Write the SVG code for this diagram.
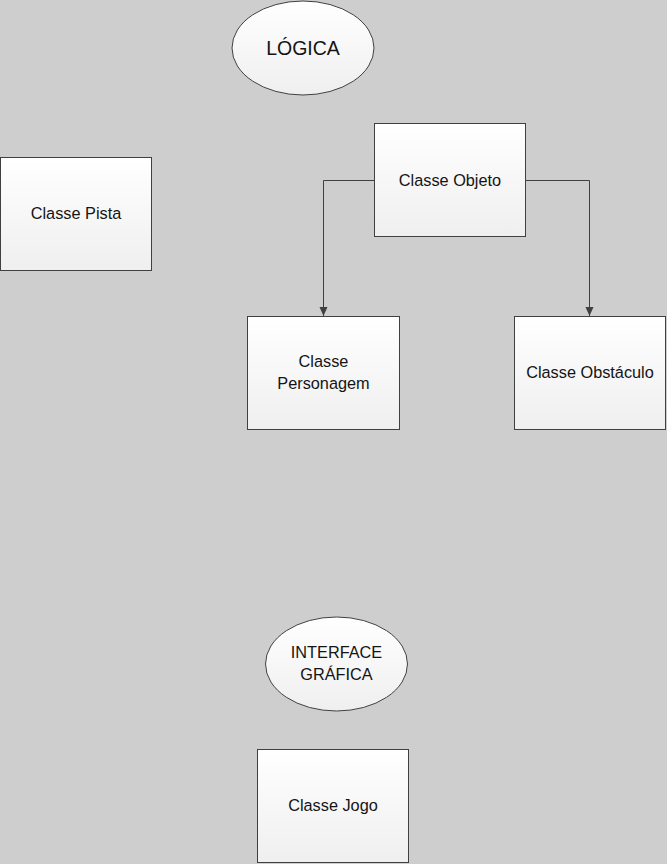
<svg xmlns="http://www.w3.org/2000/svg" width="667" height="864" viewBox="0 0 667 864">
  <defs>
    <linearGradient id="g" x1="0" y1="0" x2="0" y2="1">
      <stop offset="0" stop-color="#ffffff"/>
      <stop offset="1" stop-color="#efefef"/>
    </linearGradient>
    <marker id="arr" markerWidth="10" markerHeight="10" refX="9" refY="5" orient="auto" markerUnits="userSpaceOnUse">
      <path d="M0,1 L9,5 L0,9 Z" fill="#404040"/>
    </marker>
    <style>
      .box { fill: url(#g); stroke: #404040; stroke-width: 1; }
      .t { font-family: "Liberation Sans", Arial, sans-serif; font-size: 16.3px; fill: #141414; text-anchor: middle; }
      .big { font-size: 19.5px; }
      .con { fill: none; stroke: #404040; stroke-width: 1; marker-end: url(#arr); }
    </style>
  </defs>
  <rect width="667" height="864" fill="#cecece"/>

  <g id="connectors">
    <path class="con" d="M374.5,180.5 H323.5 V316"/>
    <path class="con" d="M525.5,180.5 H589.5 V316"/>
  </g>

  <g id="logica">
    <ellipse class="box" cx="303" cy="48" rx="71" ry="47"/>
    <text class="t big" x="303" y="55">LÓGICA</text>
  </g>

  <g id="objeto">
    <rect class="box" x="374.5" y="123.5" width="151" height="113"/>
    <text class="t" x="450" y="186">Classe Objeto</text>
  </g>

  <g id="pista">
    <rect class="box" x="0.5" y="157.5" width="151" height="113"/>
    <text class="t" x="76" y="219">Classe Pista</text>
  </g>

  <g id="personagem">
    <rect class="box" x="247.5" y="316.5" width="152" height="113"/>
    <text class="t" x="323.5" y="367">Classe</text>
    <text class="t" x="323.5" y="389">Personagem</text>
  </g>

  <g id="obstaculo">
    <rect class="box" x="514.5" y="316.5" width="151" height="113"/>
    <text class="t" x="590" y="378">Classe Obstáculo</text>
  </g>

  <g id="interface">
    <ellipse class="box" cx="336.5" cy="664" rx="71" ry="47"/>
    <text class="t" x="336.5" y="658">INTERFACE</text>
    <text class="t" x="336.5" y="680">GRÁFICA</text>
  </g>

  <g id="jogo">
    <rect class="box" x="257.5" y="749.5" width="151" height="113"/>
    <text class="t" x="333" y="811">Classe Jogo</text>
  </g>
</svg>
